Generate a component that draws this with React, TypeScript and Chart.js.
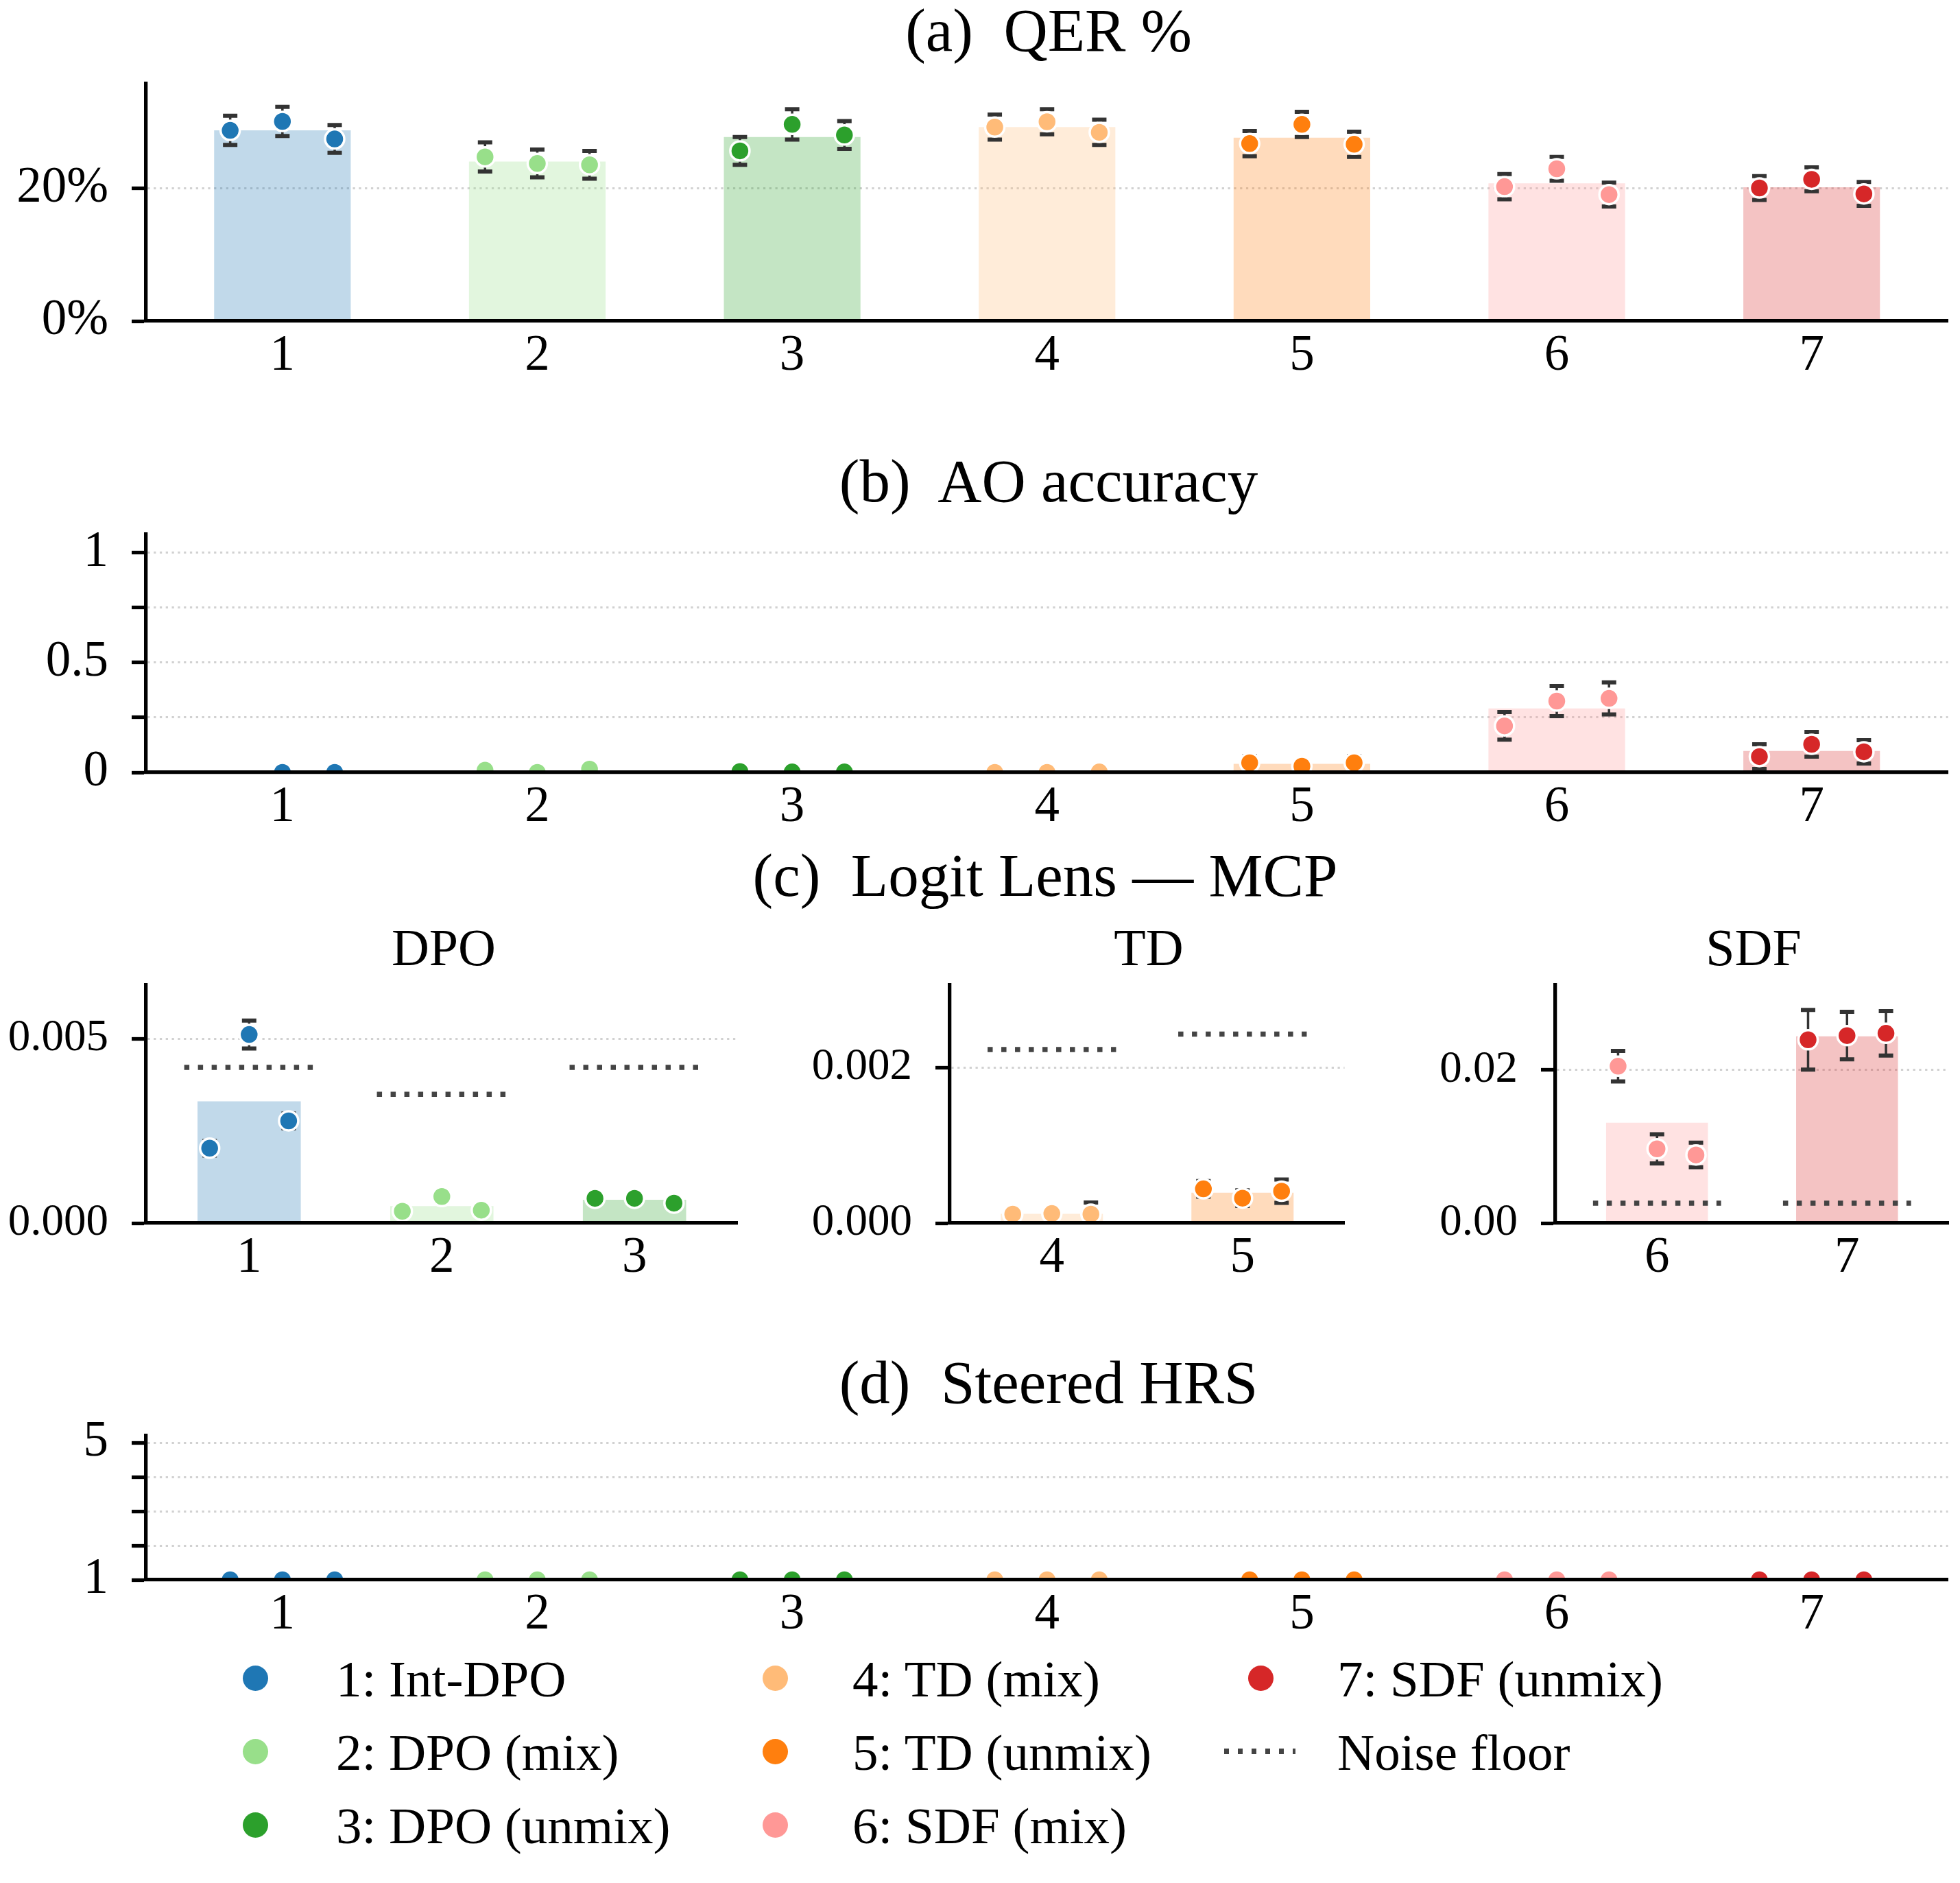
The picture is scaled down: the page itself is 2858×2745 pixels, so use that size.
import { useEffect, useRef } from 'react';
import { Chart, registerables } from 'chart.js';

Chart.register(...registerables);

document.body.style.margin = '0';

const FONT = "'Liberation Serif', 'Times New Roman', serif";
Chart.defaults.font.family = FONT;

// methods / colours (tab20-style)
const METHODS = ['1: Int-DPO', '2: DPO (mix)', '3: DPO (unmix)', '4: TD (mix)', '5: TD (unmix)', '6: SDF (mix)', '7: SDF (unmix)'];
const COLORS = ['#1f77b4', '#98df8a', '#2ca02c', '#ffbb78', '#ff7f0e', '#ff9896', '#d62728'];
const SEED_OFFSETS = [-0.205, 0, 0.205];
const ALL_CATS = [1, 2, 3, 4, 5, 6, 7];

// (a) QER %
const QER_MEAN = [28.8, 24.1, 27.8, 29.3, 27.7, 20.8, 20.2];
const QER_SEEDS = [
  [28.8, 30.15, 27.5],
  [24.8, 23.8, 23.6],
  [25.7, 29.7, 28.1],
  [29.3, 30.1, 28.5],
  [26.8, 29.7, 26.7],
  [20.3, 23.0, 19.1],
  [20.1, 21.4, 19.2],
];
const QER_ERR = [
  [2.2, 2.2, 2.1],
  [2.2, 2.1, 2.1],
  [2.1, 2.3, 2.1],
  [1.9, 1.9, 1.9],
  [1.9, 1.9, 1.9],
  [1.9, 1.8, 1.8],
  [1.8, 1.8, 1.8],
];
const QER_TICKS = [0, 20];
const QER_TICK_LABELS = ['0%', '20%'];

// (b) AO accuracy
const AO_MEAN = [0.0, 0.008, 0.003, 0.001, 0.039, 0.291, 0.098];
const AO_SEEDS = [
  [null, 0.0, 0.0],
  [0.01, 0.0, 0.015],
  [0.004, 0.002, 0.002],
  [0.0, 0.0, 0.002],
  [0.044, 0.028, 0.044],
  [0.212, 0.325, 0.337],
  [0.072, 0.128, 0.094],
];
const AO_ERR = [
  [0, 0, 0],
  [0.005, 0, 0.005],
  [0, 0, 0],
  [0, 0, 0],
  [0.03, 0.02, 0.03],
  [0.063, 0.069, 0.073],
  [0.056, 0.056, 0.053],
];
const AO_TICKS = [0, 0.25, 0.5, 0.75, 1];
const AO_TICK_LABELS = ['0', '', '0.5', '', '1'];

// (c) Logit Lens - MCP
const DPO_CATS = [1, 2, 3];
const DPO_MEAN = [0.0033, 0.00046, 0.00063];
const DPO_SEEDS = [
  [0.00203, 0.00511, 0.00277],
  [0.00032, 0.00072, 0.00035],
  [0.00067, 0.00067, 0.00054],
];
const DPO_ERR = [
  [0.0002, 0.00038, 0.0002],
  [0.0001, 0.0001, 0.0001],
  [0.0001, 0.0001, 0.0001],
];
const DPO_NOISE = [0.00422, 0.00349, 0.00422];
const DPO_TICKS = [0, 0.005];
const DPO_TICK_LABELS = ['0.000', '0.005'];

const TD_CATS = [4, 5];
const TD_MEAN = [0.00012, 0.00039];
const TD_SEEDS = [
  [0.000115, 0.000123, 0.000115],
  [0.00044, 0.00032, 0.00041],
];
const TD_ERR = [
  [0.00005, 0.00005, 0.00015],
  [0.0001, 0.0001, 0.00015],
];
const TD_NOISE = [0.00223, 0.00243];
const TD_TICKS = [0, 0.002];
const TD_TICK_LABELS = ['0.000', '0.002'];

const SDF_CATS = [6, 7];
const SDF_MEAN = [0.0131, 0.0244];
const SDF_SEEDS = [
  [0.0205, 0.0097, 0.0089],
  [0.02395, 0.0245, 0.0248],
];
const SDF_ERR = [
  [0.002, 0.0019, 0.0016],
  [0.0039, 0.0031, 0.0029],
];
const SDF_NOISE = [0.0026, 0.0026];
const SDF_TICKS = [0, 0.02];
const SDF_TICK_LABELS = ['0.00', '0.02'];

// (d) Steered HRS
const HRS_MEAN = [1, 1, 1, 1, 1, 1, 1];
const HRS_SEEDS = [
  [1, 1, 1], [1, 1, 1], [1, 1, 1], [1, 1, 1], [1, 1, 1], [1, 1, 1], [1, 1, 1],
];
const HRS_ERR = [
  [0, 0, 0], [0, 0, 0], [0, 0, 0], [0, 0, 0], [0, 0, 0], [0, 0, 0], [0, 0, 0],
];
const HRS_TICKS = [1, 2, 3, 4, 5];
const HRS_TICK_LABELS = ['1', '', '', '', '5'];

// layout (px)
const YW = 213;
const XH = 110;
const PADT = 100; // must exceed half label height + tick padding
const PADR = 13;
const TICK_SIZE = 73;
const NOISE_HALF = 0.337;

type PanelSpec = {
  cats: number[];
  mean: number[];
  seeds: (number | null)[][];
  err: number[][];
  noise?: number[];
  xRange: [number, number];
  yRange: [number, number];
  yTicks: number[];
  yTickLabels: string[];
  yTickSize: number;
  plot: { l: number; t: number; w: number; h: number };
};

function rgba(hex: string, a: number) {
  const n = parseInt(hex.slice(1), 16);
  return `rgba(${(n >> 16) & 255}, ${(n >> 8) & 255}, ${n & 255}, ${a})`;
}

function PanelChart({ spec }: { spec: PanelSpec }) {
  const canvasRef = useRef<HTMLCanvasElement>(null);

  useEffect(() => {
    if (!canvasRef.current) return;
    const { cats, mean, seeds, err, noise } = spec;

    const seedPts: { x: number; y: number | null }[] = [];
    const seedColors: string[] = [];
    const errPts: { x: number; y: number | null }[] = [];
    cats.forEach((c, i) => {
      seeds[i].forEach((v, j) => {
        const x = c + SEED_OFFSETS[j];
        seedPts.push({ x, y: v });
        seedColors.push(COLORS[c - 1]);
        const e = err[i][j];
        if (v !== null && e > 0) {
          errPts.push({ x, y: v - e }, { x, y: v + e }, { x, y: null });
        }
      });
    });

    const datasets: any[] = [
      {
        type: 'line',
        order: 0,
        data: seedPts,
        showLine: false,
        clip: 0,
        pointRadius: 14,
        pointHoverRadius: 14,
        pointBorderWidth: 3.5,
        pointBorderColor: '#ffffff',
        pointBackgroundColor: seedColors,
      },
      {
        type: 'line',
        order: 1,
        data: errPts,
        clip: 0,
        spanGaps: false,
        borderColor: '#333333',
        borderWidth: 3.5,
        pointStyle: 'line',
        pointRadius: 10.5,
        pointHoverRadius: 10.5,
        pointBorderWidth: 6,
        pointBorderColor: '#333333',
      },
    ];
    if (noise) {
      datasets.push({
        type: 'line',
        order: 2,
        data: cats.flatMap((c, i) => [
          { x: c - NOISE_HALF, y: noise[i] },
          { x: c + NOISE_HALF, y: noise[i] },
          { x: c, y: null },
        ]),
        spanGaps: false,
        borderColor: '#444444',
        borderWidth: 7.5,
        borderDash: [7.5, 12.5],
        borderCapStyle: 'butt',
        pointRadius: 0,
        pointHoverRadius: 0,
      });
    }
    datasets.push({
      type: 'bar',
      order: 3,
      data: cats.map((c, i) => ({ x: c, y: mean[i] })),
      backgroundColor: cats.map((c) => rgba(COLORS[c - 1], 0.28)),
      borderWidth: 0,
      barPercentage: 0.536,
      categoryPercentage: 1,
    });

    const chart = new Chart(canvasRef.current, {
      type: 'bar',
      data: { datasets },
      options: {
        animation: false,
        responsive: true,
        maintainAspectRatio: false,
        events: [],
        layout: { padding: { top: PADT, right: PADR, left: 0, bottom: 0 } },
        plugins: { legend: { display: false }, tooltip: { enabled: false } },
        scales: {
          x: {
            type: 'linear',
            min: spec.xRange[0],
            max: spec.xRange[1],
            offset: false,
            afterBuildTicks: (s: any) => {
              s.ticks = cats.map((v) => ({ value: v }));
            },
            afterFit: (s: any) => {
              s.height = XH;
            },
            ticks: {
              callback: (v: any) => String(v),
              font: { family: FONT, size: TICK_SIZE },
              color: '#000000',
              padding: 8,
              autoSkip: false,
              maxRotation: 0,
              minRotation: 0,
            },
            grid: { display: false, drawTicks: false },
            border: { display: true, color: '#000000', width: 5.3, z: 1 },
          },
          y: {
            type: 'linear',
            min: spec.yRange[0],
            max: spec.yRange[1],
            afterBuildTicks: (s: any) => {
              s.ticks = spec.yTicks.map((v) => ({ value: v }));
            },
            afterFit: (s: any) => {
              s.width = YW;
            },
            ticks: {
              callback: (_v: any, i: number) => spec.yTickLabels[i],
              font: { family: FONT, size: spec.yTickSize },
              color: '#000000',
              padding: 34,
              autoSkip: false,
            },
            grid: {
              color: 'rgba(0, 0, 0, 0.18)',
              lineWidth: 3,
              drawTicks: true,
              tickLength: 21,
              tickWidth: 5.3,
              tickColor: '#000000',
              tickBorderDash: [],
            },
            border: { display: true, color: '#000000', width: 5.3, dash: [3.3, 5.5], z: 1 },
          },
        },
      } as any,
    });

    return () => chart.destroy();
  }, [spec]);

  const { l, t, w, h } = spec.plot;
  return (
    <div
      style={{
        position: 'absolute',
        left: l - YW,
        top: t - PADT,
        width: YW + w + PADR,
        height: PADT + h + XH,
      }}
    >
      <canvas ref={canvasRef} />
    </div>
  );
}

function Text({ text, x, baseline, size, align = 'center' }: { text: string; x: number; baseline: number; size: number; align?: 'center' | 'left' }) {
  const top = baseline - 0.8375 * size;
  const style: React.CSSProperties = {
    position: 'absolute',
    top,
    fontFamily: FONT,
    fontSize: size,
    lineHeight: `${size}px`,
    whiteSpace: 'pre',
    color: '#000',
  };
  if (align === 'center') {
    Object.assign(style, { left: x - 1000, width: 2000, textAlign: 'center' });
  } else {
    Object.assign(style, { left: x });
  }
  return <div style={style}>{text}</div>;
}

const PANEL_A: PanelSpec = {
  cats: ALL_CATS, mean: QER_MEAN, seeds: QER_SEEDS, err: QER_ERR,
  xRange: [0.465, 7.535], yRange: [0, 35.85],
  yTicks: QER_TICKS, yTickLabels: QER_TICK_LABELS, yTickSize: TICK_SIZE,
  plot: { l: 213, t: 122, w: 2632, h: 346 },
};
const PANEL_B: PanelSpec = {
  cats: ALL_CATS, mean: AO_MEAN, seeds: AO_SEEDS, err: AO_ERR,
  xRange: [0.465, 7.535], yRange: [0, 1.084],
  yTicks: AO_TICKS, yTickLabels: AO_TICK_LABELS, yTickSize: TICK_SIZE,
  plot: { l: 213, t: 779, w: 2632, h: 347 },
};
const PANEL_C1: PanelSpec = {
  cats: DPO_CATS, mean: DPO_MEAN, seeds: DPO_SEEDS, err: DPO_ERR, noise: DPO_NOISE,
  xRange: [0.465, 3.535], yRange: [0, 0.00645],
  yTicks: DPO_TICKS, yTickLabels: DPO_TICK_LABELS, yTickSize: 65,
  plot: { l: 213, t: 1436, w: 867, h: 347 },
};
const PANEL_C2: PanelSpec = {
  cats: TD_CATS, mean: TD_MEAN, seeds: TD_SEEDS, err: TD_ERR, noise: TD_NOISE,
  xRange: [3.465, 5.535], yRange: [0, 0.00306],
  yTicks: TD_TICKS, yTickLabels: TD_TICK_LABELS, yTickSize: 65,
  plot: { l: 1385, t: 1436, w: 580, h: 347 },
};
const PANEL_C3: PanelSpec = {
  cats: SDF_CATS, mean: SDF_MEAN, seeds: SDF_SEEDS, err: SDF_ERR, noise: SDF_NOISE,
  xRange: [5.465, 7.535], yRange: [0, 0.0311],
  yTicks: SDF_TICKS, yTickLabels: SDF_TICK_LABELS, yTickSize: 65,
  plot: { l: 2268, t: 1436, w: 578, h: 347 },
};
const PANEL_D: PanelSpec = {
  cats: ALL_CATS, mean: HRS_MEAN, seeds: HRS_SEEDS, err: HRS_ERR,
  xRange: [0.465, 7.535], yRange: [1, 5.2],
  yTicks: HRS_TICKS, yTickLabels: HRS_TICK_LABELS, yTickSize: TICK_SIZE,
  plot: { l: 213, t: 2093, w: 2632, h: 210 },
};

const LEGEND_MARKER_X = [372, 1130, 1838];
const LEGEND_TEXT_X = [490, 1243, 1950];
const LEGEND_BASELINES = [2473, 2580, 2687];
const LEGEND_SIZE = 75;

function Legend() {
  const items = METHODS.map((m, i) => ({ label: m, color: COLORS[i], noise: false }));
  items.push({ label: 'Noise floor', color: '#444444', noise: true });
  return (
    <>
      {items.map((it, i) => {
        const col = Math.floor(i / 3);
        const row = i % 3;
        const cy = LEGEND_BASELINES[row] - 27;
        const cx = LEGEND_MARKER_X[col];
        return (
          <div key={it.label}>
            {it.noise ? (
              <div
                style={{
                  position: 'absolute',
                  left: 1785,
                  top: cy - 3.75,
                  width: 104,
                  height: 7.5,
                  background: 'repeating-linear-gradient(to right, #444 0 7.5px, transparent 7.5px 20px)',
                }}
              />
            ) : (
              <div
                style={{
                  position: 'absolute',
                  left: cx - 18.5,
                  top: cy - 18.5,
                  width: 37,
                  height: 37,
                  borderRadius: '50%',
                  background: it.color,
                }}
              />
            )}
            <Text text={it.label} x={LEGEND_TEXT_X[col]} baseline={LEGEND_BASELINES[row]} size={LEGEND_SIZE} align="left" />
          </div>
        );
      })}
    </>
  );
}

export default function App() {
  return (
    <div style={{ position: 'relative', width: 2858, height: 2745, background: '#fff', overflow: 'hidden' }}>
      <Text text="(a)  QER %" x={1529} baseline={75} size={89} />
      <PanelChart spec={PANEL_A} />
      <Text text="(b)  AO accuracy" x={1529} baseline={732} size={89} />
      <PanelChart spec={PANEL_B} />
      <Text text="(c)  Logit Lens — MCP" x={1524} baseline={1307} size={89} />
      <Text text="DPO" x={647} baseline={1407} size={76} />
      <Text text="TD" x={1675} baseline={1407} size={76} />
      <Text text="SDF" x={2557} baseline={1407} size={76} />
      <PanelChart spec={PANEL_C1} />
      <PanelChart spec={PANEL_C2} />
      <PanelChart spec={PANEL_C3} />
      <Text text="(d)  Steered HRS" x={1529} baseline={2046} size={89} />
      <PanelChart spec={PANEL_D} />
      <Legend />
    </div>
  );
}
